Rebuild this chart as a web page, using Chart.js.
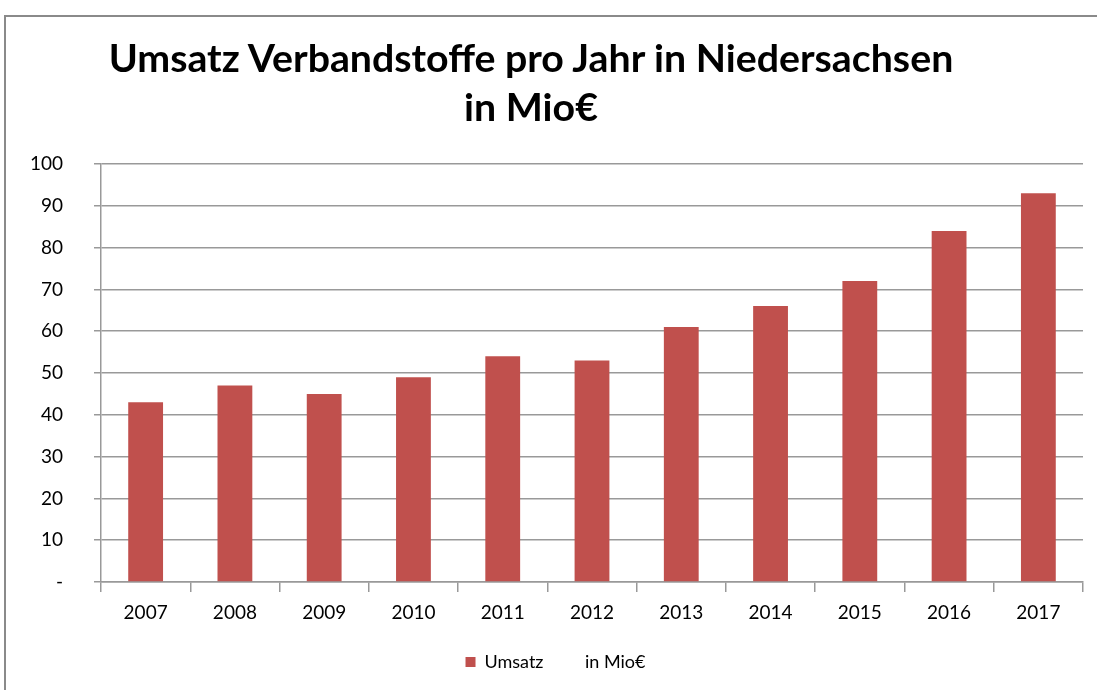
<!DOCTYPE html>
<html>
<head>
<meta charset="utf-8">
<script src="https://cdn.jsdelivr.net/npm/chart.js@4.4.1/dist/chart.umd.min.js"></script>
<style>
  html, body { margin: 0; padding: 0; background: #fff; }
  #wrap { position: relative; width: 1097px; height: 690px; overflow: hidden; }
  #frame { position: absolute; left: 4px; top: 15px; width: 1200px; height: 800px;
           border-left: 2px solid #8a8a8a; border-top: 2px solid #8a8a8a; pointer-events: none; }
  .titel { position: absolute; left: 31px; width: 1000px; text-align: center; white-space: nowrap;
           font-family: Lato, "Open Sans", sans-serif; font-weight: bold;
           font-size: 38px; line-height: 49px; color: #000; transform-origin: 500px 50%; }
  canvas { position: absolute; left: 0; top: 0; }
</style>
</head>
<body>
<div id="wrap">
  <canvas id="umsatzChart" width="1097" height="690"></canvas>
  <div class="titel" id="titel1" style="top:33px">Umsatz Verbandstoffe pro Jahr in Niedersachsen</div>
  <div class="titel" id="titel2" style="top:82px">in Mio€</div>
  <div id="frame"></div>
</div>
<script>
// Daten
const jahre = ['2007', '2008', '2009', '2010', '2011', '2012', '2013', '2014', '2015', '2016', '2017'];
const umsatz = [43, 47, 45, 49, 54, 53, 61, 66, 72, 84, 93];
const yTicks = [0, 10, 20, 30, 40, 50, 60, 70, 80, 90, 100];
const legendeText = 'Umsatz         in Mio€';

const schrift = 'Lato, "Open Sans", sans-serif';

// Titel auf die Breite im Original bringen (Calibri ist schmaler)
function titelBreite() {
    let c = document.createElement('canvas').getContext('2d');
    c.font = 'bold 38px ' + schrift;
    let w = c.measureText('Umsatz Verbandstoffe pro Jahr in Niedersachsen').width;
    let f = 848 / w;
    document.getElementById('titel1').style.transform = 'scaleX(' + f + ')';
    document.getElementById('titel2').style.transform = 'scaleX(' + f + ')';
}

let ctx = document.getElementById('umsatzChart').getContext('2d');
let config = {
    type: 'bar',
    data: {
        labels: jahre,
        datasets: [{
            label: legendeText,
            data: umsatz,
            backgroundColor: '#C0504D',
            borderWidth: 0,
            barPercentage: 0.78,
            categoryPercentage: 0.5,
        }],
    },
    options: {
        responsive: false,
        animation: false,
        layout: {
            padding: { top: 164, right: 14, bottom: 9, left: 28 },
        },
        plugins: {
            title: { display: false },
            tooltip: { enabled: false },
            legend: {
                position: 'bottom',
                labels: {
                    font: { family: schrift, size: 18 },
                    color: '#000',
                    boxWidth: 10,
                    boxHeight: 10,
                    padding: 10,
                },
            },
        },
        scales: {
            x: {
                grid: {
                    display: true,
                    offset: true,
                    drawOnChartArea: false,
                    color: '#999',
                    lineWidth: 1.5,
                    tickLength: 10,
                },
                border: { color: '#999', width: 1.5 },
                ticks: {
                    font: { family: schrift, size: 19 },
                    color: '#000',
                    padding: 9,
                    maxRotation: 0,
                },
                afterFit: function (scale) { scale.height = 61; },
            },
            y: {
                min: 0,
                max: 100,
                afterBuildTicks: function (scale) {
                    scale.ticks = yTicks.map(v => ({ value: v }));
                },
                grid: {
                    color: '#999',
                    lineWidth: 1.5,
                    tickLength: 7,
                },
                border: { color: '#999', width: 1.5 },
                ticks: {
                    font: { family: schrift, size: 19 },
                    color: '#000',
                    padding: 31,
                    callback: function (v) { return v === 0 ? '-' : v; },
                },
                afterFit: function (scale) { scale.width = 73; },
            },
        },
    },
};

let chart;
document.fonts.load('bold 38px Lato').then(function () {
    titelBreite();
    chart = new Chart(ctx, config);
});
</script>
</body>
</html>
